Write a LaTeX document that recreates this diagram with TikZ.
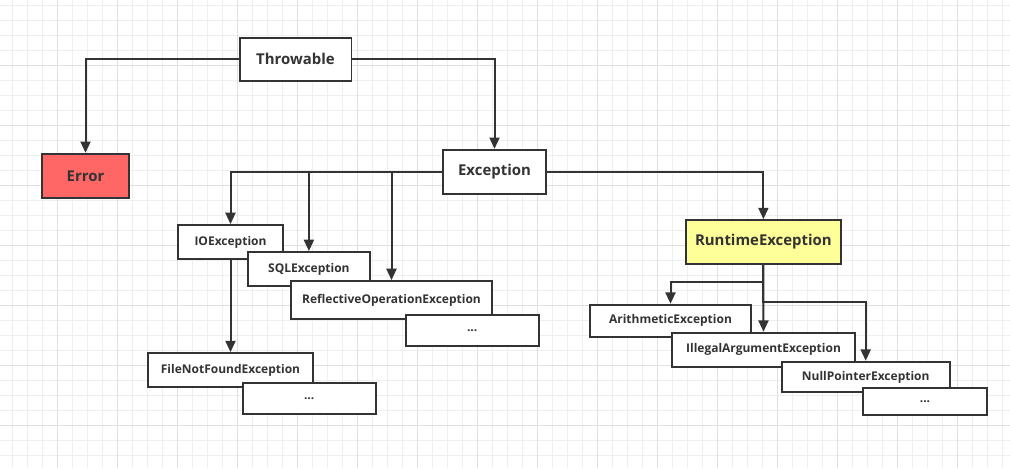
\documentclass[tikz,border=0pt]{standalone}
\usepackage{fontspec}
\setmainfont{Open Sans}
\usetikzlibrary{arrows.meta}
\definecolor{ink}{HTML}{333333}
\definecolor{gridminor}{HTML}{EFEFEF}
\definecolor{gridmajor}{HTML}{E0E0E0}
\definecolor{errfill}{HTML}{FF6666}
\definecolor{rtfill}{HTML}{FFFF99}
\tikzset{
  box/.style={draw=ink, line width=1.4pt, fill=white, inner sep=0pt, text=ink},
  bigbox/.style={box, font=\fontsize{11.2pt}{13pt}\selectfont\bfseries},
  smallbox/.style={box, font=\fontsize{9pt}{11pt}\selectfont\bfseries},
  sz/.style 2 args={minimum width=#1, minimum height=#2},
  conn/.style={draw=ink, line width=1.5pt, -{Triangle[length=8.5pt,width=7.5pt]}},
}
\begin{document}
\begin{tikzpicture}[x=0.75pt,y=-0.75pt]
\useasboundingbox (0,0) rectangle (1010,468);
\fill[white] (0,0) rectangle (1010,468);
% grid
\foreach \gx in {0,...,66} {\draw[gridminor, line width=0.75pt] (12.3+15*\gx,0) -- (12.3+15*\gx,468);}
\foreach \gy in {0,...,31} {\draw[gridminor, line width=0.75pt] (0,5+15*\gy) -- (1010,5+15*\gy);}
\foreach \gx in {0,...,15} {\draw[gridmajor, line width=0.75pt] (57.3+60*\gx,0) -- (57.3+60*\gx,468);}
\foreach \gy in {0,...,6} {\draw[gridmajor, line width=0.75pt] (0,65+60*\gy) -- (1010,65+60*\gy);}
% nodes
\node[bigbox, sz={83.9pt}{32.3pt}] (thr) at (295.5,59.2) {Throwable};
\node[bigbox, sz={65.3pt}{33.2pt}, fill=errfill] (err) at (85.5,175.9) {Error};
\node[bigbox, sz={77.3pt}{33.2pt}] (exc) at (494.5,171.9) {Exception};
\node[bigbox, sz={116.5pt}{32.8pt}, fill=rtfill] (rt) at (763.4,241.9) {RuntimeException};
\node[smallbox, sz={79.2pt}{25.5pt}] (io) at (230.5,242) {IOException};
\node[smallbox, sz={91.7pt}{25.5pt}] (sql) at (308.9,269) {SQLException};
\node[smallbox, sz={150.8pt}{28.5pt}] (refl) at (391.5,300) {ReflectiveOperationException};
\node[smallbox, sz={99.8pt}{23.3pt}] (dotsa) at (472.2,330.5) {...};
\node[smallbox, sz={124.2pt}{25.7pt}] (fnf) at (230.5,370.2) {FileNotFoundException};
\node[smallbox, sz={99.8pt}{23.5pt}] (dotsb) at (309.2,398.3) {...};
\node[smallbox, sz={121.2pt}{24.2pt}] (ari) at (670.5,320.8) {ArithmeticException};
\node[smallbox, sz={137.7pt}{25.7pt}] (ill) at (763.5,349.8) {IllegalArgumentException};
\node[smallbox, sz={126pt}{23pt}] (np) at (865.7,377) {NullPointerException};
\node[smallbox, sz={93.5pt}{20.3pt}] (dotsc) at (925,401.2) {...};
% connectors
\draw[conn] (thr.west) -| (err.north);
\draw[conn] (thr.east) -| (exc.north);
\draw[conn] (exc.west) -| (io.north);
\draw[conn] (exc.west) -| (sql.north);
\draw[conn] (exc.west) -| (refl.north);
\draw[conn] (exc.east) -| (rt.north);
\draw[conn] (io.south) -- (fnf.north);
\draw[conn] (rt.south) -- ++(0,17) -| (ari.north);
\draw[conn] (rt.south) -- (ill.north);
\draw[conn] (rt.south) -- ++(0,37.3) -| (np.north);
\end{tikzpicture}
\end{document}
